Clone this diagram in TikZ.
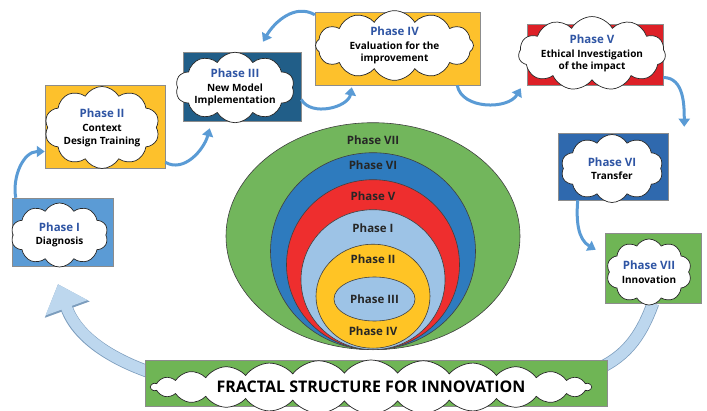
\documentclass[tikz,border=0pt]{standalone}
\usepackage{fontspec}
\setmainfont{Open Sans}
\usepackage{tikz}
\usetikzlibrary{arrows.meta, positioning}
\usetikzlibrary{shapes.symbols, shapes.geometric}
\usepackage{xcolor}

\definecolor{titleblue}{HTML}{2F55A4}
\definecolor{boxlight}{HTML}{5B9BD5}
\definecolor{boxamber}{HTML}{FDC12C}
\definecolor{boxnavy}{HTML}{215E88}
\definecolor{boxred}{HTML}{DD2027}
\definecolor{boxblue}{HTML}{2F69AE}
\definecolor{boxgreen}{HTML}{6FB555}
\definecolor{ringgreen}{HTML}{72B65C}
\definecolor{ringblue}{HTML}{2E7BBE}
\definecolor{ringred}{HTML}{EE2E2E}
\definecolor{ringpale}{HTML}{9DC3E6}
\definecolor{ringamber}{HTML}{FFC425}
\definecolor{flowblue}{HTML}{5A9BD5}
\definecolor{loopfill}{HTML}{BDD7EE}
\definecolor{loopedge}{HTML}{7C9DBD}

\newcommand{\phasetitle}[1]{{\color{titleblue}\fontsize{11.5}{13}\selectfont #1}}

\begin{document}
\begin{tikzpicture}[x=1pt,y=1pt]
    \tikzstyle{box}=[rectangle,draw=black!45,line width=0.5pt,inner sep=0pt]
    \tikzstyle{puff}=[cloud,cloud puffs=10,cloud puff arc=120,cloud ignores aspect,fill=white,draw=black!85,line width=0.7pt,inner sep=0pt,align=center,font=\bfseries\fontsize{10}{12.5}\selectfont]
    \tikzstyle{ring}=[ellipse,draw=black!75,line width=0.6pt,inner sep=0pt,anchor=south]
    \tikzstyle{ringlabel}=[inner sep=0pt,font=\bfseries\fontsize{11.5}{13}\selectfont,text=black!85]
    \tikzstyle{flow}=[draw=flowblue,line width=3pt,-{Triangle[width=11pt,length=8pt]}]

    \useasboundingbox (0,0) rectangle (707,410);

    % nested rings
    \coordinate (base) at (373,60);
    \node[ring, fill=ringgreen, minimum width=294pt, minimum height=227pt] (e7) at (base) {};
    \node[ring, fill=ringblue, minimum width=205pt, minimum height=197pt] (e6) at (base) {};
    \node[ring, fill=ringred, minimum width=173pt, minimum height=170pt] (e5) at (base) {};
    \node[ring, fill=ringpale, minimum width=144pt, minimum height=140pt] (e1) at (base) {};
    \node[ring, fill=ringamber, minimum width=114pt, minimum height=104pt] (e2) at ([yshift=1.5pt]base) {};
    \node[ring, fill=ringpale, minimum width=81pt, minimum height=44pt, anchor=center] (e3) at (374.5,111) {};

    \node[ringlabel, below=13pt of e7.north] {Phase VII};
    \node[ringlabel, below=8pt of e6.north] {Phase VI};
    \node[ringlabel, below=12pt of e5.north] {Phase V};
    \node[ringlabel, below=14pt of e1.north] {Phase I};
    \node[ringlabel, below=11pt of e2.north] {Phase II};
    \node[ringlabel] at (e3) {Phase III};
    \node[ringlabel, above=13pt of e2.south] {Phase IV};

    % phase boxes
    \node[box, fill=boxlight, minimum width=101pt, minimum height=68pt] (p1box) at (62.5,178) {};
    \node[box, fill=boxamber, minimum width=120pt, minimum height=83pt] (p2box) at (105,283.5) {};
    \node[box, fill=boxnavy, minimum width=118pt, minimum height=69pt] (p3box) at (242,323.5) {};
    \node[box, fill=boxamber, minimum width=165pt, minimum height=73pt] (p4box) at (397.5,361.5) {};
    \node[box, fill=boxred, minimum width=136pt, minimum height=61pt] (p5box) at (595,355.5) {};
    \node[box, fill=boxblue, minimum width=110pt, minimum height=67pt] (p6box) at (613,243.5) {};
    \node[box, fill=boxgreen, minimum width=96pt, minimum height=70pt] (p7box) at (653,142) {};

    % loop back from the last phase to the first
    \coordinate (dipR) at (590,38);
    \coordinate (dipL) at (175,30);
    \draw[loopedge, line width=12.5pt, -{Triangle[width=46pt,length=27pt]}]
        (p7box.south) to[out=-110,in=20] (dipR) -- (dipL) to[out=165,in=-70] ([xshift=-4.5pt,yshift=-18pt]p1box.south);
    \draw[loopfill, line width=11pt, -{Triangle[width=43pt,length=25pt]}]
        (p7box.south) to[out=-110,in=20] (dipR) -- (dipL) to[out=165,in=-70] ([xshift=-4.5pt,yshift=-18pt]p1box.south);

    \node[box, fill=boxgreen, minimum width=462pt, minimum height=46pt] (banner) at (376,27) {};

    % clouds
    \node[puff, minimum width=97pt, minimum height=64pt] (p1) at ([xshift=-3pt,yshift=-3pt]p1box) {\phasetitle{Phase I}\\[1pt] Diagnosis};
    \node[puff, minimum width=115pt, minimum height=82pt] (p2) at ([xshift=-3pt,yshift=-1pt]p2box) {\phasetitle{Phase II}\\[2pt] Context\\ Design Training};
    \node[puff, minimum width=100pt, minimum height=70pt] (p3) at ([xshift=-7pt,yshift=-1pt]p3box) {\phasetitle{Phase III}\\[1pt] New Model\\ Implementation};
    \node[puff, cloud puffs=12, minimum width=158pt, minimum height=68pt] (p4) at ([xshift=-3pt,yshift=3pt]p4box) {\phasetitle{Phase IV}\\[1pt] Evaluation for the\\ improvement};
    \node[puff, cloud puffs=11, minimum width=125pt, minimum height=60pt] (p5) at ([xshift=-3pt,yshift=1pt]p5box) {\phasetitle{Phase V}\\[1pt] Ethical Investigation\\ of the impact};
    \node[puff, minimum width=102pt, minimum height=68pt] (p6) at ([xshift=-1pt,yshift=-2pt]p6box) {\phasetitle{Phase VI}\\[1pt] Transfer};
    \node[puff, minimum width=85pt, minimum height=66pt] (p7) at ([xshift=-4pt,yshift=-4pt]p7box) {\phasetitle{Phase VII}\\[1pt] Innovation};
    \node[puff, cloud puffs=26, cloud puff arc=105, minimum width=440pt, minimum height=54pt] (motto) at ([xshift=-5pt,yshift=-4pt]banner) {\fontsize{16}{18}\selectfont FRACTAL STRUCTURE FOR INNOVATION};

    % phase to phase
    \path
    ([xshift=4pt]p1box.north west) edge[flow, out=100, in=180] ([yshift=-25pt]p2box.west)
    ([yshift=6pt]p2box.south east) edge[flow, out=-30, in=-105] ([xshift=27pt,yshift=-7pt]p3box.south west)
    ([yshift=-3pt]p4box.north west) edge[flow, out=150, in=60] ([xshift=21pt,yshift=10pt]p3box.north)
    ([yshift=-13pt]p3box.east) edge[flow, out=-60, in=-100] ([xshift=37pt,yshift=-2pt]p4box.south west)
    ([xshift=-23pt]p4box.south east) edge[flow, out=-80, in=-120] ([xshift=-6pt,yshift=-3pt]p5box.south west)
    ([yshift=-23pt]p5box.east) edge[flow, out=0, in=90] ([xshift=16pt,yshift=6pt]p6box.north east)
    ([xshift=20pt]p6box.south west) edge[flow, out=-95, in=150] ([xshift=-9pt,yshift=-17pt]p7box.north west)
    ;
\end{tikzpicture}
\end{document}
